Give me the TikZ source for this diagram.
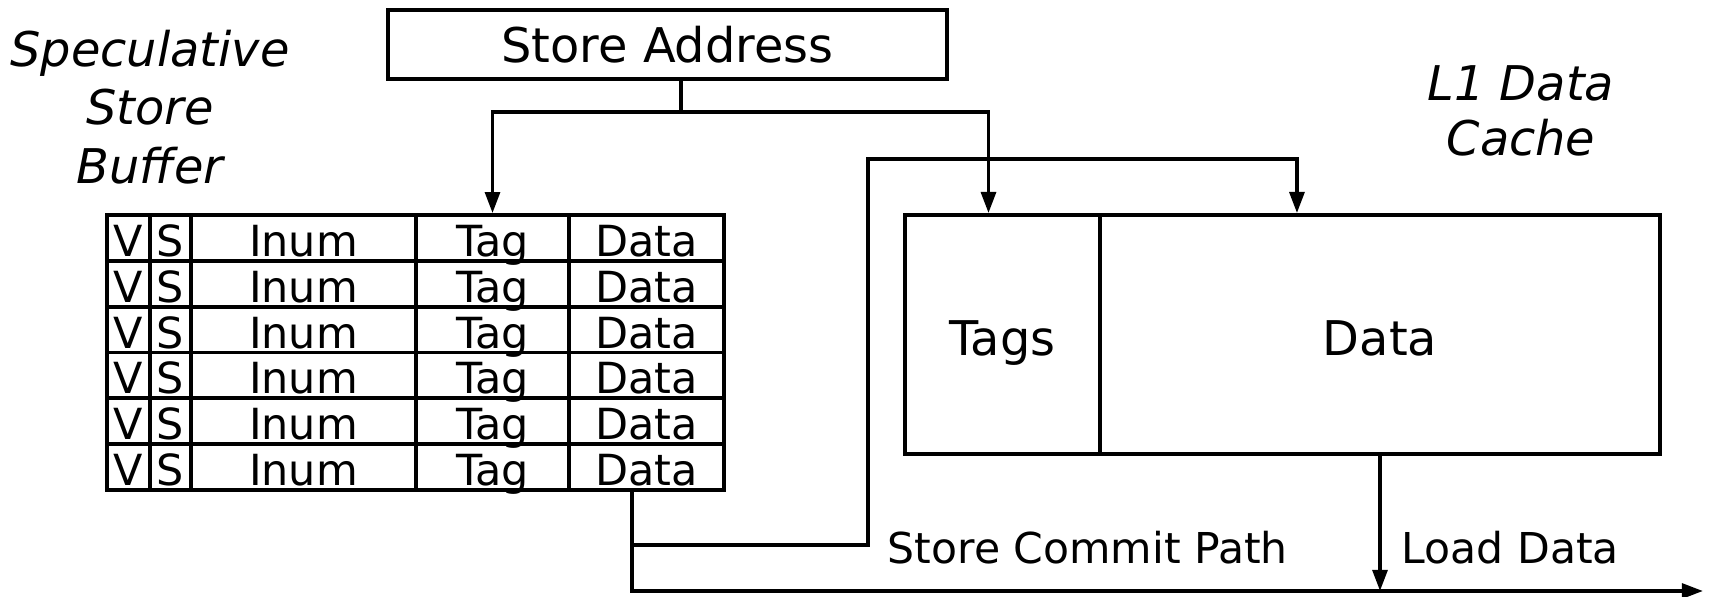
\documentclass[tikz,border=0pt]{standalone}
\usepackage{fontspec}
\setmainfont{DejaVu Sans}
\usetikzlibrary{arrows.meta, positioning, calc}
\tikzset{
    wire/.style={line width=1.05pt},
    arr/.style={wire, -{Triangle[length=6pt, width=4.2pt]}},
    cell/.style={draw, line width=1.05pt, inner sep=0pt, minimum height=0.46cm,
        text height=0.37cm, text depth=0cm, font=\fontsize{12.2}{14}\selectfont},
    bigbox/.style={draw, line width=1.05pt, inner sep=0pt,
        font=\fontsize{13.6}{16}\selectfont},
    lbl/.style={font=\fontsize{12.1}{14}\selectfont, inner sep=0pt},
    title/.style={align=center, font=\fontsize{13.6}{16.6}\selectfont\itshape},
}

\begin{document}
\begin{tikzpicture}[x=0.01cm, y=-0.01cm]
    \useasboundingbox (0, 0) rectangle (1712, 597);
    \node[bigbox, minimum width=5.59cm, minimum height=0.69cm] (addr)
        at (667.5, 44.5) {Store Address};
    \node[title] (sbtitle) at (150, 107) {Speculative\\Store\\Buffer};
    \node[title, font=\fontsize{13.6}{15.6}\selectfont\itshape] (l1title)
        at (1521, 111) {L1 Data\\Cache};
    % store buffer rows
    \foreach \r in {0,...,5} {
        \pgfmathsetmacro\yy{238 + 45.8*\r}
        \node[cell, minimum width=0.43cm] (v\r) at (128.5, \yy) {V};
        \node[cell, minimum width=0.41cm] (s\r) at (170.5, \yy) {S};
        \node[cell, minimum width=2.25cm] (inum\r) at (303.5, \yy) {Inum};
        \node[cell, minimum width=1.53cm] (tag\r) at (492.5, \yy) {Tag};
        \node[cell, minimum width=1.55cm] (data\r) at (646.5, \yy) {Data};
    }
    % cache
    \node[bigbox, minimum width=1.95cm, minimum height=2.39cm,
        text height=0.41cm, text depth=0cm] (tags) at (1002.5, 334.5) {Tags};
    \node[bigbox, minimum width=5.6cm, minimum height=2.39cm,
        text height=0.41cm, text depth=0cm] (cdata) at (1380, 334.5) {Data};
    \coordinate (split) at (681, 112);
    \draw[wire] ([xshift=.135cm]addr.south) -- (split);
    \draw[arr] (split) -| (tag0.north);
    \draw[arr] (split) -| ([xshift=-.14cm]tags.north);
    % commit path
    \coordinate (cjoin) at (632, 545);
    \draw[arr] ([xshift=-.145cm]data5.south) -- (cjoin) -- (868, 545)
        -- (868, 159) -| ([xshift=-.83cm]cdata.north);
    \coordinate (busend) at (1703, 591);
    \draw[arr] (cjoin) |- (busend);
    \draw[arr] (cdata.south) -- (cdata.south |- busend);
    \node[lbl, anchor=west] (commitlbl) at (887, 548) {Store Commit Path};
    \node[lbl, anchor=west] (loadlbl) at (1401, 548) {Load Data};
\end{tikzpicture}
\end{document}
